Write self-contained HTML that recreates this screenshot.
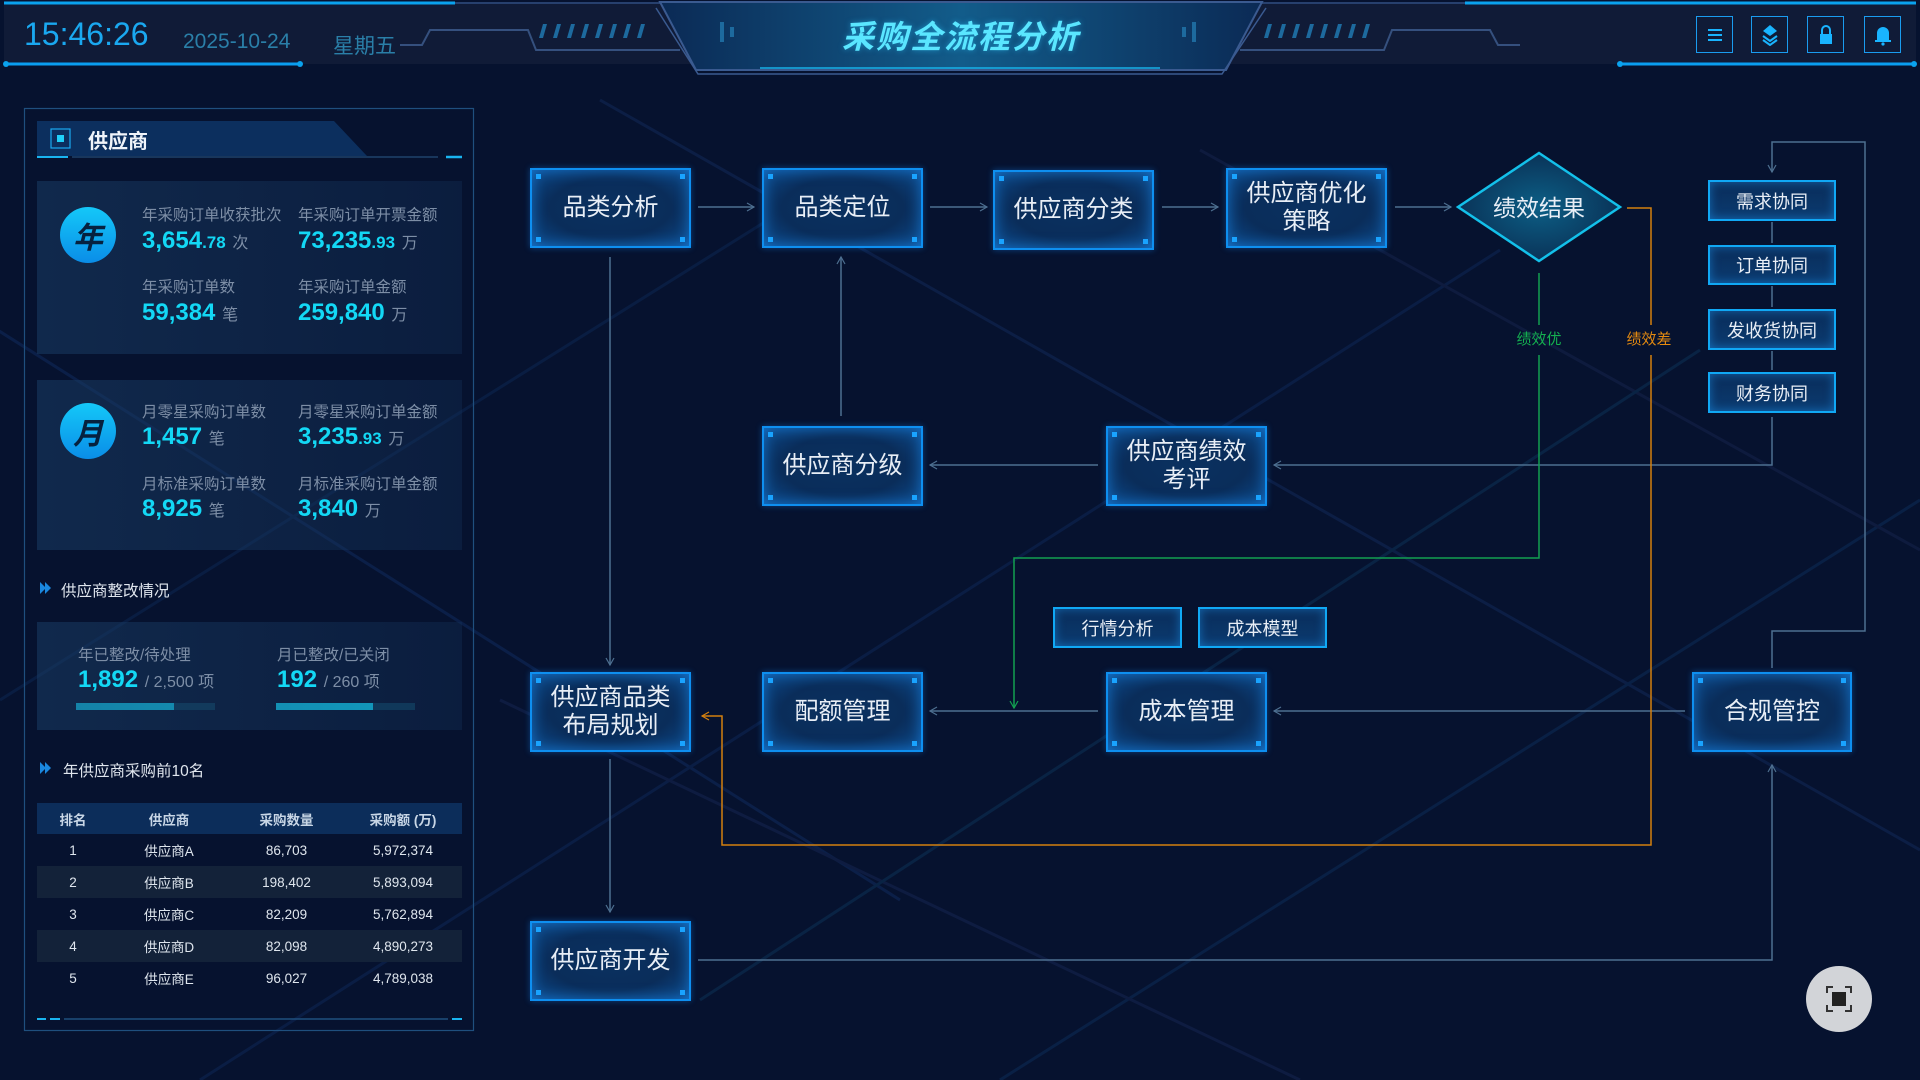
<!DOCTYPE html>
<html><head><meta charset="utf-8">
<style>
*{margin:0;padding:0;box-sizing:border-box}
body{width:1920px;height:1080px;overflow:hidden;background:#06122f;font-family:"Liberation Sans","Noto Sans CJK SC",sans-serif;position:relative;color:#fff}
.abs{position:absolute}
.node{position:absolute;border:2px solid #0e8ff0;background:radial-gradient(ellipse at 50% 50%,#0a3160 0%,#0a2d5a 55%,#0d4c8e 100%);box-shadow:inset 0 0 14px rgba(30,150,255,.55),0 0 6px rgba(20,140,255,.4);display:flex;align-items:center;justify-content:center;text-align:center;color:#e8eef6;font-size:24px;line-height:28px}
.node i{position:absolute;width:5px;height:5px;background:#19a3ff}
.node i.a{left:4px;top:4px}.node i.b{right:4px;top:4px}.node i.c{left:4px;bottom:4px}.node i.d{right:4px;bottom:4px}
.sm{position:absolute;border:2px solid #10a8f5;background:linear-gradient(#0a2d5a,#0b3b70);box-shadow:inset 0 0 10px rgba(30,160,255,.5);display:flex;align-items:center;justify-content:center;color:#e8eef6;font-size:18px}
.lbl{color:#7d8ea6;font-size:15.5px}
.val{color:#13d8f5;font-size:24px;font-weight:bold;white-space:nowrap}
.val small{font-size:17px}
.val span{font-size:16px;color:#7d8ea6;font-weight:normal}
.card{position:absolute;left:37px;width:425px;background:linear-gradient(90deg,rgba(25,60,100,.55),rgba(20,50,90,.35));}
.circ{position:absolute;width:56px;height:56px;border-radius:50%;background:linear-gradient(#14c8f8,#0a8de8);color:#06213f;font-weight:bold;font-style:italic;font-size:30px;display:flex;align-items:center;justify-content:center}
table{border-collapse:collapse}
td,th{text-align:center;font-size:13.5px;height:32px;color:#dfe6ee;font-weight:normal}
th{background:#0c2d5a;height:31px;font-weight:bold;color:#c8d6e6}
tr.alt td{background:#132239}
.ico{position:absolute;top:16px;width:37px;height:37px;border:1px solid #1a9cf0;display:flex;align-items:center;justify-content:center;color:#19b4ff}
</style></head><body>
<svg class="abs" style="left:0;top:0" width="1920" height="1080">
<g stroke-width="3" opacity=".16">
<line x1="-50" y1="300" x2="900" y2="900" stroke="#2a66c8"/>
<line x1="200" y1="1080" x2="1500" y2="250" stroke="#1f5ab0"/>
<line x1="600" y1="100" x2="1920" y2="850" stroke="#2c5fb8"/>
<line x1="1000" y1="1080" x2="1920" y2="500" stroke="#1e6ab8"/>
<line x1="500" y1="700" x2="1300" y2="1080" stroke="#3a4fa0"/>
<line x1="0" y1="700" x2="800" y2="200" stroke="#1b5aa8"/>
<line x1="1200" y1="150" x2="1920" y2="550" stroke="#3c4a90"/>
<line x1="700" y1="1000" x2="1700" y2="350" stroke="#1d7ab0"/>
</g>
<!-- header -->
<rect x="4" y="4" width="1912" height="60" fill="#15203a" opacity=".7"/>
<line x1="4" y1="3" x2="455" y2="3" stroke="#0aa2ee" stroke-width="3"/>
<line x1="1465" y1="3" x2="1916" y2="3" stroke="#0aa2ee" stroke-width="3"/>
<line x1="455" y1="3" x2="1465" y2="3" stroke="#27406e" stroke-width="2"/>
<line x1="6" y1="64" x2="300" y2="64" stroke="#0a9ef0" stroke-width="3"/>
<circle cx="6" cy="64" r="3" fill="#0aa2ee"/><circle cx="300" cy="64" r="3" fill="#0aa2ee"/>
<line x1="1620" y1="64" x2="1914" y2="64" stroke="#0a9ef0" stroke-width="3"/>
<circle cx="1620" cy="64" r="3" fill="#0aa2ee"/><circle cx="1914" cy="64" r="3" fill="#0aa2ee"/>
<polyline points="400,45 422,45 430,30 528,30 536,50 680,50" fill="none" stroke="#35507e" stroke-width="2"/>
<polyline points="1240,50 1384,50 1392,30 1490,30 1498,45 1520,45" fill="none" stroke="#35507e" stroke-width="2"/>
<g fill="#1d6a9e"><polygon points="543,24 547,24 543,38 539,38"/><polygon points="557,24 561,24 557,38 553,38"/><polygon points="571,24 575,24 571,38 567,38"/><polygon points="585,24 589,24 585,38 581,38"/><polygon points="599,24 603,24 599,38 595,38"/><polygon points="613,24 617,24 613,38 609,38"/><polygon points="627,24 631,24 627,38 623,38"/><polygon points="641,24 645,24 641,38 637,38"/>
<polygon points="1268,24 1272,24 1268,38 1264,38"/><polygon points="1282,24 1286,24 1282,38 1278,38"/><polygon points="1296,24 1300,24 1296,38 1292,38"/><polygon points="1310,24 1314,24 1310,38 1306,38"/><polygon points="1324,24 1328,24 1324,38 1320,38"/><polygon points="1338,24 1342,24 1338,38 1334,38"/><polygon points="1352,24 1356,24 1352,38 1348,38"/><polygon points="1366,24 1370,24 1366,38 1362,38"/></g>
<defs><linearGradient id="tg" x1="0" x2="1"><stop offset="0" stop-color="#0b2a55"/><stop offset=".5" stop-color="#125c8a"/><stop offset="1" stop-color="#0b2a55"/></linearGradient></defs>
<polygon points="660,2 1262,2 1226,70 696,70" fill="url(#tg)" stroke="#3a5a90" stroke-width="2"/>
<polyline points="656,8 698,74 1222,74 1266,8" fill="none" stroke="#3a5a90" stroke-width="1.5"/>
<line x1="760" y1="68" x2="1160" y2="68" stroke="#18b8f0" stroke-width="2" opacity=".7"/>
<rect x="720" y="22" width="4" height="20" fill="#1d6a9e"/><rect x="730" y="27" width="4" height="10" fill="#1d6a9e"/>
<rect x="1192" y="22" width="4" height="20" fill="#1d6a9e"/><rect x="1182" y="27" width="4" height="10" fill="#1d6a9e"/>

<!-- connectors -->
<defs>
<marker id="ar" markerWidth="10" markerHeight="10" refX="8" refY="5" orient="auto" markerUnits="userSpaceOnUse"><path d="M1,1 L8,5 L1,9" fill="none" stroke="#4d6f90" stroke-width="1.2"/></marker>
<marker id="ag" markerWidth="10" markerHeight="10" refX="8" refY="5" orient="auto" markerUnits="userSpaceOnUse"><path d="M1,1 L8,5 L1,9" fill="none" stroke="#12a050" stroke-width="1.2"/></marker>
<marker id="ao" markerWidth="10" markerHeight="10" refX="8" refY="5" orient="auto" markerUnits="userSpaceOnUse"><path d="M1,1 L8,5 L1,9" fill="none" stroke="#d4800f" stroke-width="1.2"/></marker>
</defs>
<g fill="none" stroke="#4d6f90" stroke-width="1.5">
<line x1="698" y1="207" x2="754" y2="207" marker-end="url(#ar)"/>
<line x1="930" y1="207" x2="987" y2="207" marker-end="url(#ar)"/>
<line x1="1162" y1="207" x2="1218" y2="207" marker-end="url(#ar)"/>
<line x1="1395" y1="207" x2="1451" y2="207" marker-end="url(#ar)"/>
<line x1="610" y1="257" x2="610" y2="665" marker-end="url(#ar)"/>
<line x1="841" y1="416" x2="841" y2="257" marker-end="url(#ar)"/>
<line x1="1098" y1="465" x2="930" y2="465" marker-end="url(#ar)"/>
<polyline points="1772,417 1772,465 1274,465" marker-end="url(#ar)"/>
<line x1="1772" y1="222" x2="1772" y2="243"/>
<line x1="1772" y1="286" x2="1772" y2="307"/>
<line x1="1772" y1="351" x2="1772" y2="370"/>
<polyline points="1772,668 1772,631 1865,631 1865,142 1772,142 1772,172" marker-end="url(#ar)"/>
<line x1="1098" y1="711" x2="930" y2="711" marker-end="url(#ar)"/>
<line x1="1685" y1="711" x2="1274" y2="711" marker-end="url(#ar)"/>
<line x1="610" y1="759" x2="610" y2="912" marker-end="url(#ar)"/>
<polyline points="698,960 1772,960 1772,765" marker-end="url(#ar)"/>
</g>
<polyline points="1539,273 1539,325" fill="none" stroke="#12a050" stroke-width="1.5"/>
<polyline points="1539,355 1539,558 1014,558 1014,708" fill="none" stroke="#12a050" stroke-width="1.5" marker-end="url(#ag)"/>
<polyline points="1627,208 1651,208 1651,325" fill="none" stroke="#d4800f" stroke-width="1.5"/>
<polyline points="1651,355 1651,845 722,845 722,716 702,716" fill="none" stroke="#d4800f" stroke-width="1.5" marker-end="url(#ao)"/>
<defs><radialGradient id="dg"><stop offset="0" stop-color="#0c5f86"/><stop offset="1" stop-color="#0a3358"/></radialGradient></defs>
<polygon points="1539,153 1620,207 1539,261 1458,207" fill="url(#dg)" stroke="#13c0ea" stroke-width="2.5"/>
<text x="1539" y="216" text-anchor="middle" fill="#e8eef6" font-size="23" font-family="Liberation Sans,Noto Sans CJK SC,sans-serif">绩效结果</text>
<text x="1539" y="344" text-anchor="middle" fill="#14b050" font-size="15" font-family="Liberation Sans,Noto Sans CJK SC,sans-serif">绩效优</text>
<text x="1649" y="344" text-anchor="middle" fill="#e48a10" font-size="15" font-family="Liberation Sans,Noto Sans CJK SC,sans-serif">绩效差</text>
<!-- left panel frame -->
<rect x="24.5" y="108.5" width="449" height="922" fill="none" stroke="#1f4f7e" stroke-width="1.2"/>
<polygon points="37,121 334,121 367,156 37,156" fill="#0c2f5e"/>
<line x1="37" y1="157" x2="68" y2="157" stroke="#19b4f0" stroke-width="2"/>
<line x1="72" y1="157" x2="438" y2="157" stroke="#2a5a8a" stroke-width="1"/>
<line x1="446" y1="157" x2="462" y2="157" stroke="#19b4f0" stroke-width="2.5"/>
<rect x="51" y="129" width="19" height="19" fill="none" stroke="#1aa8f0" stroke-width="1.2"/>
<rect x="57" y="135" width="7" height="7" fill="#20d0f8"/>
<g fill="#1a88e0"><polygon points="40,582 46,588 40,594"/><polygon points="45,582 51,588 45,594"/><polygon points="40,762 46,768 40,774"/><polygon points="45,762 51,768 45,774"/></g>
<rect x="76" y="703" width="139" height="7" fill="#0d3a58"/><rect x="76" y="703" width="98" height="7" fill="#10d4f5"/>
<rect x="276" y="703" width="139" height="7" fill="#0d3a58"/><rect x="276" y="703" width="97" height="7" fill="#10d4f5"/>
<line x1="37" y1="1019" x2="46" y2="1019" stroke="#19b4f0" stroke-width="2"/>
<line x1="50" y1="1019" x2="60" y2="1019" stroke="#19b4f0" stroke-width="2"/>
<line x1="64" y1="1019" x2="448" y2="1019" stroke="#1f4f7e" stroke-width="1.5"/>
<line x1="452" y1="1019" x2="462" y2="1019" stroke="#19b4f0" stroke-width="2"/>
</svg>

<div class="abs" style="left:24px;top:16px;font-size:32px;color:#1aa8f0">15:46:26</div>
<div class="abs" style="left:183px;top:30px;font-size:21px;color:#2a7fa8">2025-10-24</div>
<div class="abs" style="left:333px;top:30px;font-size:21px;color:#2a7fa8">星期五</div>
<div class="abs" style="left:660px;top:12px;width:602px;text-align:center;font-size:32px;font-weight:bold;font-style:italic;color:#5ae6ff;letter-spacing:2px;text-shadow:0 0 6px rgba(40,200,255,.5)">采购全流程分析</div>
<div class="ico" style="left:1696px"><svg width="18" height="18"><g stroke="#19b4ff" stroke-width="2"><line x1="2" y1="4" x2="16" y2="4"/><line x1="2" y1="9" x2="16" y2="9"/><line x1="2" y1="14" x2="16" y2="14"/></g></svg></div>
<div class="ico" style="left:1751px"><svg width="18" height="22"><polygon points="9,1 16,7 9,12 2,7" fill="#19b4ff"/><polyline points="2,12 9,17 16,12" fill="none" stroke="#19b4ff" stroke-width="2"/><polyline points="2,16 9,21 16,16" fill="none" stroke="#19b4ff" stroke-width="2"/></svg></div>
<div class="ico" style="left:1807px"><svg width="18" height="22"><path d="M5,10 V6 a4,4 0 0 1 8,0 V10" fill="none" stroke="#19b4ff" stroke-width="2"/><rect x="3" y="10" width="12" height="10" fill="#19b4ff"/></svg></div>
<div class="ico" style="left:1864px"><svg width="18" height="22"><path d="M3,17 V9 a6,6 0 0 1 12,0 V17 Z" fill="#19b4ff"/><rect x="1" y="16" width="16" height="2" fill="#19b4ff"/><circle cx="9" cy="20" r="1.6" fill="#19b4ff"/></svg></div>

<!-- left panel content -->
<div class="abs" style="left:88px;top:125px;font-size:20px;font-weight:bold;color:#f0f4fa">供应商</div>
<div class="card" style="top:181px;height:173px"></div>
<div class="circ" style="left:60px;top:207px">年</div>
<div class="abs lbl" style="left:142px;top:203px">年采购订单收获批次</div>
<div class="abs lbl" style="left:298px;top:203px">年采购订单开票金额</div>
<div class="abs val" style="left:142px;top:227px">3,654<small>.78</small> <span>次</span></div>
<div class="abs val" style="left:298px;top:227px">73,235<small>.93</small> <span>万</span></div>
<div class="abs lbl" style="left:142px;top:275px">年采购订单数</div>
<div class="abs lbl" style="left:298px;top:275px">年采购订单金额</div>
<div class="abs val" style="left:142px;top:299px">59,384 <span>笔</span></div>
<div class="abs val" style="left:298px;top:299px">259,840 <span>万</span></div>
<div class="card" style="top:380px;height:170px"></div>
<div class="circ" style="left:60px;top:403px">月</div>
<div class="abs lbl" style="left:142px;top:400px">月零星采购订单数</div>
<div class="abs lbl" style="left:298px;top:400px">月零星采购订单金额</div>
<div class="abs val" style="left:142px;top:423px">1,457 <span>笔</span></div>
<div class="abs val" style="left:298px;top:423px">3,235<small>.93</small> <span>万</span></div>
<div class="abs lbl" style="left:142px;top:472px">月标准采购订单数</div>
<div class="abs lbl" style="left:298px;top:472px">月标准采购订单金额</div>
<div class="abs val" style="left:142px;top:495px">8,925 <span>笔</span></div>
<div class="abs val" style="left:298px;top:495px">3,840 <span>万</span></div>
<div class="abs" style="left:61px;top:579px;font-size:15.5px;color:#e0e6ee">供应商整改情况</div>
<div class="card" style="top:622px;height:108px"></div>
<div class="abs lbl" style="left:78px;top:643px">年已整改/待处理</div>
<div class="abs lbl" style="left:277px;top:643px">月已整改/已关闭</div>
<div class="abs val" style="left:78px;top:666px">1,892 <span>/ 2,500 项</span></div>
<div class="abs val" style="left:277px;top:666px">192 <span>/ 260 项</span></div>
<div class="abs" style="left:63px;top:759px;font-size:15.5px;color:#e0e6ee">年供应商采购前10名</div>
<table class="abs" style="left:37px;top:803px;width:425px">
<tr><th style="width:72px">排名</th><th style="width:120px">供应商</th><th style="width:115px">采购数量</th><th>采购额 (万)</th></tr>
<tr><td>1</td><td>供应商A</td><td>86,703</td><td>5,972,374</td></tr>
<tr class="alt"><td>2</td><td>供应商B</td><td>198,402</td><td>5,893,094</td></tr>
<tr><td>3</td><td>供应商C</td><td>82,209</td><td>5,762,894</td></tr>
<tr class="alt"><td>4</td><td>供应商D</td><td>82,098</td><td>4,890,273</td></tr>
<tr><td>5</td><td>供应商E</td><td>96,027</td><td>4,789,038</td></tr>
</table>

<!-- nodes -->
<div class="node" style="left:530px;top:168px;width:161px;height:80px"><i class="a"></i><i class="b"></i><i class="c"></i><i class="d"></i>品类分析</div>
<div class="node" style="left:762px;top:168px;width:161px;height:80px"><i class="a"></i><i class="b"></i><i class="c"></i><i class="d"></i>品类定位</div>
<div class="node" style="left:993px;top:170px;width:161px;height:80px"><i class="a"></i><i class="b"></i><i class="c"></i><i class="d"></i>供应商分类</div>
<div class="node" style="left:1226px;top:168px;width:161px;height:80px"><i class="a"></i><i class="b"></i><i class="c"></i><i class="d"></i>供应商优化<br>策略</div>
<div class="node" style="left:762px;top:426px;width:161px;height:80px"><i class="a"></i><i class="b"></i><i class="c"></i><i class="d"></i>供应商分级</div>
<div class="node" style="left:1106px;top:426px;width:161px;height:80px"><i class="a"></i><i class="b"></i><i class="c"></i><i class="d"></i>供应商绩效<br>考评</div>
<div class="node" style="left:530px;top:672px;width:161px;height:80px"><i class="a"></i><i class="b"></i><i class="c"></i><i class="d"></i>供应商品类<br>布局规划</div>
<div class="node" style="left:762px;top:672px;width:161px;height:80px"><i class="a"></i><i class="b"></i><i class="c"></i><i class="d"></i>配额管理</div>
<div class="node" style="left:1106px;top:672px;width:161px;height:80px"><i class="a"></i><i class="b"></i><i class="c"></i><i class="d"></i>成本管理</div>
<div class="node" style="left:1692px;top:672px;width:160px;height:80px"><i class="a"></i><i class="b"></i><i class="c"></i><i class="d"></i>合规管控</div>
<div class="node" style="left:530px;top:921px;width:161px;height:80px"><i class="a"></i><i class="b"></i><i class="c"></i><i class="d"></i>供应商开发</div>
<div class="sm" style="left:1708px;top:180px;width:128px;height:41px">需求协同</div>
<div class="sm" style="left:1708px;top:245px;width:128px;height:40px">订单协同</div>
<div class="sm" style="left:1708px;top:309px;width:128px;height:41px">发收货协同</div>
<div class="sm" style="left:1708px;top:372px;width:128px;height:41px">财务协同</div>
<div class="sm" style="left:1053px;top:607px;width:129px;height:41px">行情分析</div>
<div class="sm" style="left:1198px;top:607px;width:129px;height:41px">成本模型</div>

<div class="abs" style="left:1806px;top:966px;width:66px;height:66px;border-radius:50%;background:#d2d4d8;display:flex;align-items:center;justify-content:center">
<svg width="26" height="26"><g fill="none" stroke="#333" stroke-width="2"><polyline points="1,7 1,1 7,1"/><polyline points="19,1 25,1 25,7"/><polyline points="1,19 1,25 7,25"/><polyline points="19,25 25,25 25,19"/></g><rect x="6" y="6" width="14" height="14" fill="#222"/></svg></div>
</body></html>
